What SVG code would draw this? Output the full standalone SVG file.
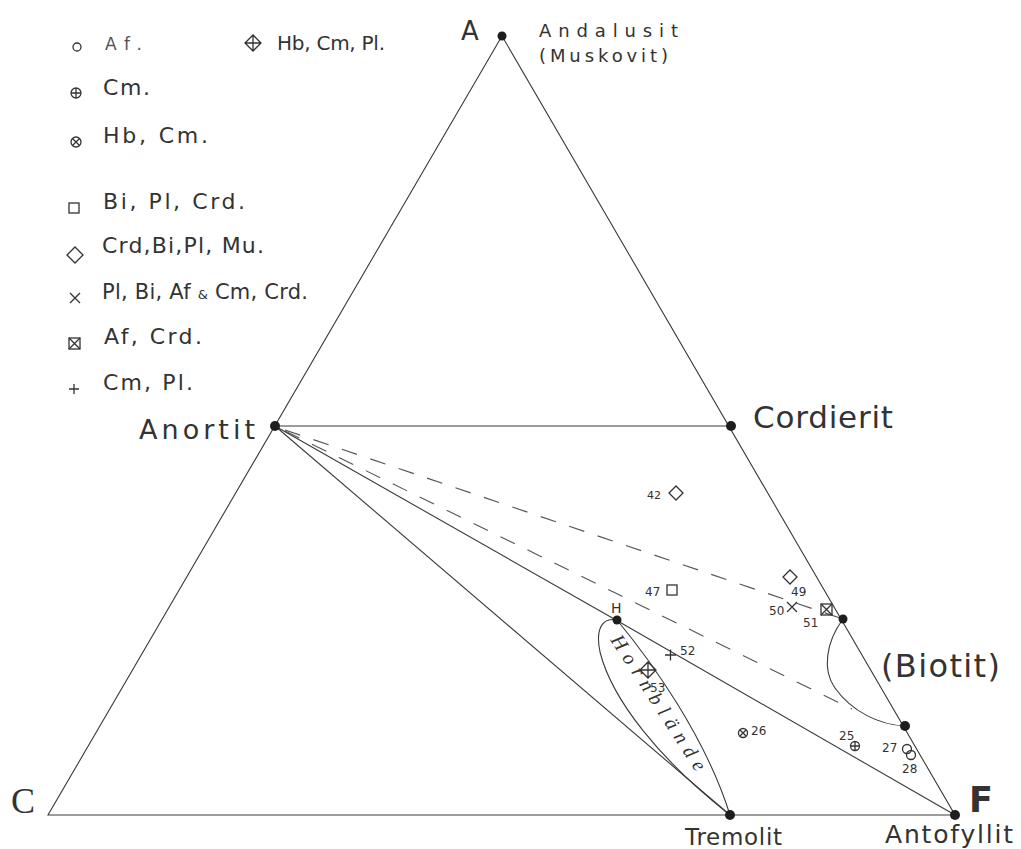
<svg xmlns="http://www.w3.org/2000/svg" width="1021" height="849" viewBox="0 0 1021 849">
<style>
.ln{fill:none;stroke:#3a3a3a;stroke-width:1.1}
.dsh{fill:none;stroke:#555;stroke-width:1.1;stroke-dasharray:16 14}
.sym{fill:none;stroke:#333;stroke-width:1.3}
.dot{fill:#1e1e1e}
.t{font-family:"DejaVu Sans","Liberation Sans",sans-serif;fill:#333}
.lg{font-family:"DejaVu Sans","Liberation Sans",sans-serif;fill:#333;font-size:22px}
.n{font-family:"DejaVu Sans","Liberation Sans",sans-serif;fill:#333;font-size:12px}
</style>
<rect width="1021" height="849" fill="#fff"/>
<g id="connectors">
<path class="ln" d="M502,36 L48,815 L955,815 Z"/>
<path class="ln" d="M275,426 L731,426"/>
<path class="ln" d="M275,426 L730,815"/>
<path class="ln" d="M275,426 L616,620"/>
<path class="ln" d="M616,620 L955,815"/>
<path class="dsh" d="M285,430 L843,619"/>
<path class="dsh" d="M285,431 L852,709"/>
<path class="ln" d="M617,620 C650,660 705,735 730,815 C660,760 612,700 600,652 C595,628 603,617 617,620 Z"/>
<path class="ln" d="M843,619 C826,642 822,670 835,688 C852,712 880,725 905,726"/>
</g>
<g id="legend">
<circle class="sym" cx="77" cy="47" r="4"/>
<text class="lg" x="105" y="50" textLength="37" lengthAdjust="spacing" style="font-size:17px;fill:#555">Af.</text>
<g class="sym"><path d="M253,35 L261,43 L253,51 L245,43 Z M245,43 H261 M253,35 V51"/></g>
<text class="lg" x="277" y="50" textLength="108" lengthAdjust="spacing" style="font-size:20px">Hb, Cm, Pl.</text>
<g class="sym"><circle cx="76" cy="93" r="5"/><path d="M71,93 H81 M76,88 V98"/></g>
<text class="lg" x="103" y="95" textLength="47" lengthAdjust="spacing">Cm.</text>
<g class="sym"><circle cx="76" cy="142" r="5"/><path d="M72.5,138.5 L79.5,145.5 M79.5,138.5 L72.5,145.5"/></g>
<text class="lg" x="103" y="143" textLength="105" lengthAdjust="spacing">Hb, Cm.</text>
<rect class="sym" x="69" y="203" width="10" height="10"/>
<text class="lg" x="103" y="209" textLength="142" lengthAdjust="spacing">Bi, Pl, Crd.</text>
<path class="sym" d="M75,247 L83,255 L75,263 L67,255 Z"/>
<text class="lg" x="102" y="253" textLength="162" lengthAdjust="spacing">Crd,Bi,Pl, Mu.</text>
<path class="sym" d="M70,293 L80,303 M80,293 L70,303"/>
<text class="lg" x="102" y="299" textLength="206" lengthAdjust="spacing" style="font-size:21px">Pl, Bi, Af <tspan style="font-size:13px">&amp;</tspan> Cm, Crd.</text>
<g class="sym"><rect x="69" y="338" width="11" height="11"/><path d="M69,338 L80,349 M80,338 L69,349"/></g>
<text class="lg" x="104" y="344" textLength="98" lengthAdjust="spacing">Af, Crd.</text>
<path class="sym" d="M69,389 H79 M74,384 V394"/>
<text class="lg" x="103" y="390" textLength="90" lengthAdjust="spacing">Cm, Pl.</text>
</g>
<g id="node-A">
<circle class="dot" cx="502" cy="36" r="4.5"/>
<text class="t" x="461" y="40" style="font-size:26px">A</text>
<text class="t" x="539" y="37" textLength="139" lengthAdjust="spacing" style="font-size:18px">Andalusit</text>
<text class="t" x="539" y="62" textLength="129" lengthAdjust="spacing" style="font-size:18px">(Muskovit)</text>
</g>
<g id="node-anortit">
<circle class="dot" cx="275" cy="426" r="5"/>
<text class="t" x="139" y="439" textLength="116" lengthAdjust="spacing" style="font-size:27px">Anortit</text>
</g>
<g id="node-cordierit">
<circle class="dot" cx="731" cy="426" r="5"/>
<text class="t" x="753" y="428" textLength="140" lengthAdjust="spacing" style="font-size:31px">Cordierit</text>
</g>
<g id="node-C">
<text x="11" y="813" style="font-family:'Liberation Serif','Times New Roman',serif;font-size:36px;fill:#333">C</text>
</g>
<g id="node-tremolit">
<circle class="dot" cx="730" cy="815" r="5"/>
<text class="t" x="685" y="845" textLength="97" lengthAdjust="spacing" style="font-size:23px">Tremolit</text>
</g>
<g id="node-F">
<circle class="dot" cx="955" cy="815" r="5"/>
<text class="t" x="969" y="812" style="font-size:35px;font-weight:bold">F</text>
<text class="t" x="885" y="843" textLength="128" lengthAdjust="spacing" style="font-size:25px">Antofyllit</text>
</g>
<g id="node-H">
<circle class="dot" cx="617" cy="620" r="4.5"/>
<text class="t" x="611" y="613" style="font-size:14px">H</text>
<text transform="translate(610,640) rotate(57)" x="0" y="0" textLength="158" lengthAdjust="spacing" style="font-family:'Liberation Serif','Times New Roman',serif;font-style:italic;font-size:20px;fill:#333">Hornblände</text>
</g>
<g id="node-biotit">
<circle class="dot" cx="843" cy="619" r="4.5"/>
<circle class="dot" cx="905" cy="726" r="5"/>
<text class="t" x="881" y="677" textLength="119" lengthAdjust="spacing" style="font-size:32px">(Biotit)</text>
</g>
<g id="samples">
<path class="sym" d="M676,486 L683,493 L676,500 L669,493 Z"/>
<text class="n" x="647" y="499" style="font-size:11px">42</text>
<rect class="sym" x="667" y="585" width="10" height="10"/>
<text class="n" x="645" y="596">47</text>
<path class="sym" d="M790,570 L797,577 L790,584 L783,577 Z"/>
<text class="n" x="791" y="596">49</text>
<path class="sym" d="M787,602 L797,612 M797,602 L787,612"/>
<text class="n" x="769" y="615">50</text>
<g class="sym"><rect x="821" y="604" width="11" height="11"/><path d="M821,604 L832,615 M832,604 L821,615"/></g>
<text class="n" x="803" y="627">51</text>
<path class="sym" d="M665,655 H676 M670.5,649.5 V660.5"/>
<text class="n" x="680" y="655">52</text>
<g class="sym"><path d="M648,662 L656,670 L648,678 L640,670 Z M640,670 H656 M648,662 V678"/></g>
<text class="n" x="650" y="692">53</text>
<g class="sym"><circle cx="743" cy="733" r="4.5"/><path d="M740,730 L746,736 M746,730 L740,736"/></g>
<text class="n" x="751" y="735">26</text>
<g class="sym"><circle cx="855" cy="746" r="4.5"/><path d="M850.5,746 H859.5 M855,741.5 V750.5"/></g>
<text class="n" x="839" y="740">25</text>
<circle class="sym" cx="907" cy="749" r="4.5"/>
<circle class="sym" cx="911" cy="755" r="4.5"/>
<text class="n" x="882" y="752">27</text>
<text class="n" x="902" y="773">28</text>
</g>
</svg>
